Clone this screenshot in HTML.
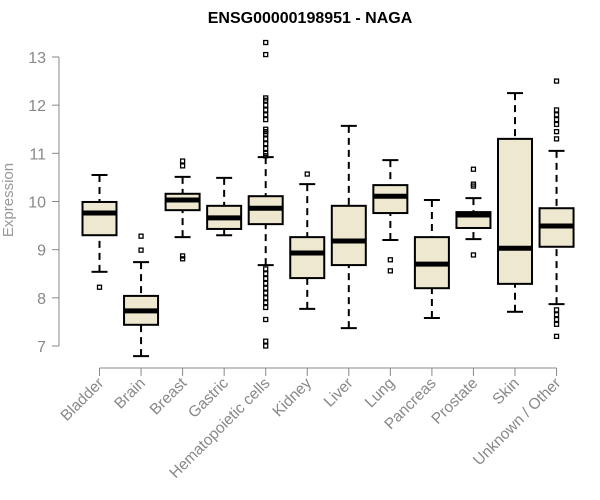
<!DOCTYPE html>
<html><head><meta charset="utf-8"><style>
body{margin:0;background:#fff;}
svg{display:block;font-family:"Liberation Sans",sans-serif;}
</style></head><body>
<svg id="c" width="600" height="500">
<text x="310" y="23" text-anchor="middle" font-weight="bold" font-size="16">ENSG00000198951 - NAGA</text>
<text transform="translate(13,200) rotate(-90)" text-anchor="middle" font-size="15" fill="#999">Expression</text>
<g id="axes"></g><g id="boxes"></g>
</svg>
<script>
const categories=["Bladder","Brain","Breast","Gastric","Hematopoietic cells","Kidney","Liver","Lung","Pancreas","Prostate","Skin","Unknown / Other"];
const whiskerLow=[8.54,6.79,9.26,9.30,8.68,7.77,7.37,9.20,7.58,9.22,7.71,7.87];
const q1=[9.30,7.44,9.82,9.43,9.53,8.41,8.68,9.76,8.20,9.45,8.29,9.06];
const medians=[9.76,7.73,10.03,9.66,9.86,8.93,9.18,10.11,8.70,9.72,9.03,9.49];
const q3=[9.99,8.04,10.16,9.91,10.11,9.26,9.91,10.34,9.26,9.78,11.30,9.86];
const whiskerHigh=[10.55,8.74,10.51,10.49,10.92,10.36,11.57,10.86,10.03,10.07,12.25,11.05];
const outliers=[[8.22],[9.28,8.99],[10.84,10.74,8.87,8.81],[],
[13.3,13.05,12.15,12.1,12.0,11.9,11.8,11.7,11.5,11.45,11.4,11.3,11.2,11.1,11.0,10.95,8.6,8.5,8.4,8.3,8.2,8.1,8.0,7.9,7.8,7.55,7.1,7.0],
[10.57],[],[8.79,8.56],[],[10.67,10.36,10.32,8.89],[],
[12.5,11.9,11.8,11.7,11.6,11.45,11.3,7.75,7.65,7.55,7.45,7.2]];
const yTicks=[7,8,9,10,11,12,13];
const NS="http://www.w3.org/2000/svg";
const y=v=>346-(v-7)*48.17;
const x=i=>99.5+i*41.55;
function mk(t,a,p){const e=document.createElementNS(NS,t);for(const k in a)e.setAttribute(k,a[k]);p.appendChild(e);return e;}
const ax=document.getElementById('axes'),bx=document.getElementById('boxes');
const ya=mk('line',{x1:59,x2:59,y1:y(7),y2:y(13),stroke:'#888'},ax);

yTicks.forEach(t=>{
 const l=mk('line',{x1:52,x2:59,y1:y(t),y2:y(t),stroke:'#888'},ax);
 
 const tx=mk('text',{x:46,y:y(t)+6,'text-anchor':'end','font-size':16,fill:'#888'},ax);tx.textContent=t;
 
});
const xa=mk('line',{x1:x(0),x2:x(11),y1:368,y2:368,stroke:'#888'},ax);

categories.forEach((c,i)=>{
 const cx=x(i);
 const l=mk('line',{x1:cx,x2:cx,y1:368,y2:376,stroke:'#888'},ax);
 
 const tx=mk('text',{transform:`translate(${cx+5},${384}) rotate(-45)`,'text-anchor':'end','font-size':15.5,fill:'#888'},ax);tx.textContent=c;
 
 const g=mk('g',{},bx);
 
 const w=17;
 mk('line',{x1:cx,x2:cx,y1:y(whiskerHigh[i]),y2:y(q3[i]),stroke:'#000','stroke-width':2,'stroke-dasharray':'7,5'},g);
 mk('line',{x1:cx,x2:cx,y1:y(whiskerLow[i]),y2:y(q1[i]),stroke:'#000','stroke-width':2,'stroke-dasharray':'7,5'},g);
 mk('line',{x1:cx-8,x2:cx+8,y1:y(whiskerHigh[i]),y2:y(whiskerHigh[i]),stroke:'#000','stroke-width':2},g);
 mk('line',{x1:cx-8,x2:cx+8,y1:y(whiskerLow[i]),y2:y(whiskerLow[i]),stroke:'#000','stroke-width':2},g);
 mk('rect',{x:cx-w,y:y(q3[i]),width:2*w,height:y(q1[i])-y(q3[i]),fill:'#EEE8D0',stroke:'#000','stroke-width':2},g);
 mk('line',{x1:cx-w,x2:cx+w,y1:y(medians[i]),y2:y(medians[i]),stroke:'#000','stroke-width':5},g);
 outliers[i].forEach(o=>mk('rect',{x:cx-2,y:y(o)-2,width:4,height:4,fill:'none',stroke:'#000','stroke-width':1.3},g));
});
</script>
</body></html>
